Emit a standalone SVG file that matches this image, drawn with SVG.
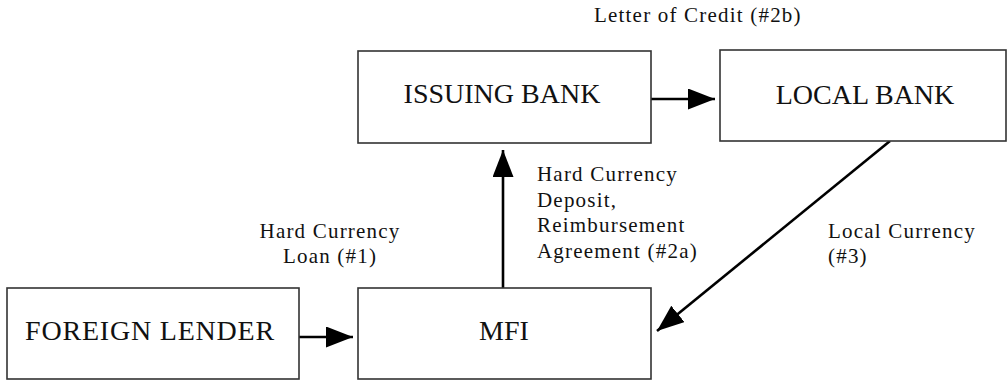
<svg xmlns="http://www.w3.org/2000/svg" width="1008" height="381" viewBox="0 0 1008 381">
  <style>
    .box { fill: #ffffff; stroke: #333333; stroke-width: 1.6; }
    .name { font-family: "Liberation Serif", "Times New Roman", serif; font-size: 28px; fill: #111111; text-anchor: middle; }
    .label { font-family: "Liberation Serif", "Times New Roman", serif; font-size: 21px; letter-spacing: 1.2px; fill: #111111; }
    .flow { fill: none; stroke: #000000; stroke-width: 2.6; marker-end: url(#head); }
  </style>
  <defs>
    <marker id="head" markerUnits="userSpaceOnUse" markerWidth="28" markerHeight="22" refX="27" refY="10.5" orient="auto">
      <path d="M0,0 L27,10.5 L0,21 Z" fill="#000000"/>
    </marker>
  </defs>

  <rect width="1008" height="381" fill="#ffffff"/>

  <!-- flows between parties -->
  <g id="connectors">
    <line class="flow" x1="299" y1="337" x2="353" y2="337"/>
    <line class="flow" x1="503" y1="288" x2="503" y2="150"/>
    <line class="flow" x1="651" y1="99" x2="715" y2="99"/>
    <line class="flow" x1="890" y1="141" x2="657" y2="331"/>
  </g>

  <g id="issuing-bank">
    <rect class="box" x="358" y="51" width="293" height="92"/>
    <text class="name" x="502" y="103">ISSUING BANK</text>
  </g>

  <g id="local-bank">
    <rect class="box" x="720" y="50" width="286" height="91"/>
    <text class="name" x="865" y="104">LOCAL BANK</text>
  </g>

  <g id="foreign-lender">
    <rect class="box" x="7" y="288" width="292" height="91"/>
    <text class="name" x="150" y="340" letter-spacing="0.8">FOREIGN LENDER</text>
  </g>

  <g id="mfi">
    <rect class="box" x="358" y="288" width="293" height="91"/>
    <text class="name" x="504" y="340">MFI</text>
  </g>

  <!-- flow labels -->
  <g id="labels">
    <text class="label" x="594" y="22">Letter of Credit (#2b)</text>
    <text class="label" x="330" y="238" text-anchor="middle">Hard Currency</text>
    <text class="label" x="330" y="263" text-anchor="middle">Loan (#1)</text>
    <text class="label" x="537" y="181">Hard Currency</text>
    <text class="label" x="537" y="206.5">Deposit,</text>
    <text class="label" x="537" y="232">Reimbursement</text>
    <text class="label" x="537" y="257.5">Agreement (#2a)</text>
    <text class="label" x="828" y="238">Local Currency</text>
    <text class="label" x="828" y="263">(#3)</text>
  </g>
</svg>
